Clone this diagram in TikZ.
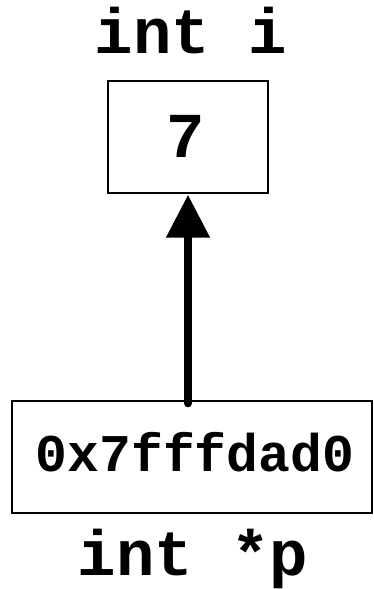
\documentclass[tikz,border=0pt]{standalone}
\usepackage{fontspec}
\setmonofont{Liberation Mono}
\usetikzlibrary{arrows.meta}
\tikzset{
  box/.style={draw=black, line width=1.4pt, inner sep=0pt},
  lbl/.style={font=\fontsize{64}{64}\selectfont\ttfamily\bfseries, anchor=base, inner sep=0pt},
  val/.style={font=\fontsize{53}{53}\selectfont\ttfamily\bfseries, anchor=base, inner sep=0pt},
  ptr/.style={line width=8pt, line cap=round, -{Triangle[length=43pt,width=42pt]}}
}
\begin{document}
\begin{tikzpicture}[x=1pt,y=-1pt]
\useasboundingbox (0,0) rectangle (373,589);
\node[box, minimum width=160pt, minimum height=112pt] (ibox) at (188,137) {};
\node[box, minimum width=360pt, minimum height=112pt] (pbox) at (192,457) {};
\node[lbl] (ilabel) at (191,53) {int i};
\node[lbl] (ival) at (186,157) {7};
\node[val] (pval) at (195,471) {0x7fffdad0};
\node[lbl] (plabel) at (193,575) {int *p};
\draw[ptr] ([yshift=-3pt]ibox.south |- pbox.north) -- ([yshift=-1pt]ibox.south);
\end{tikzpicture}
\end{document}
